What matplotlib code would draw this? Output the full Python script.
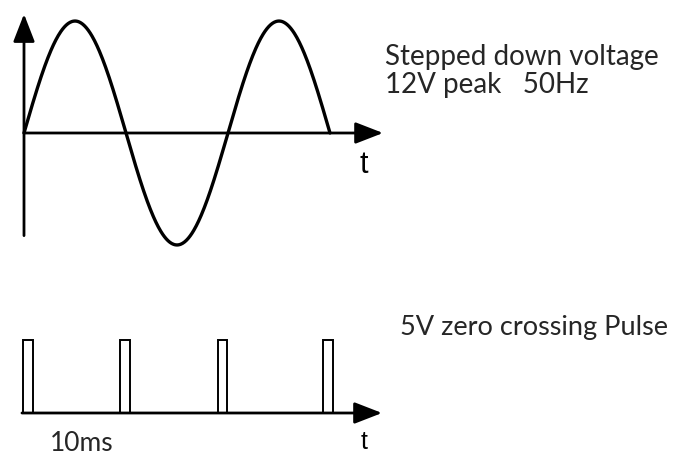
import numpy as np
import matplotlib
matplotlib.use('Agg')
import matplotlib.pyplot as plt

# sine wave (stepped down mains)
peak_voltage = 12
frequency_hz = 50
duration_ms = 30

# zero crossing pulses
pulse_starts_ms = [-0.1, 9.4, 19.0, 29.3]
pulse_width_ms = 0.95
pulse_voltage = 5

# text
top_labels = ['Stepped down voltage', '12V peak   50Hz']
bottom_label = '5V zero crossing Pulse'
period_label = '10ms'
axis_label = 't'

W, H = 674, 456
px_per_ms = 10.2
px_per_volt_top = 9.33
px_per_volt_bot = 14.6

fig = plt.figure(figsize=(W / 100, H / 100), dpi=100)

# top axes covers pixel rows 0..290, origin at (24, 134)
ax1 = fig.add_axes([0, 1 - 290 / H, 1, 290 / H])
ax1.set_xlim(-24 / px_per_ms, (W - 24) / px_per_ms)
ax1.set_ylim((134 - 290) / px_per_volt_top, 134 / px_per_volt_top)
ax1.axis('off')

# bottom axes covers pixel rows 290..456, origin at (24, 414)
ax2 = fig.add_axes([0, 0, 1, 166 / H])
ax2.set_xlim(-24 / px_per_ms, (W - 24) / px_per_ms)
ax2.set_ylim((414 - 456) / px_per_volt_bot, (414 - 290) / px_per_volt_bot)
ax2.axis('off')

arrow = dict(arrowstyle='-|>,head_length=0.85,head_width=0.33', lw=2.0,
             color='black', mutation_scale=20, shrinkA=0, shrinkB=0)

# top axes lines
ax1.annotate('', xy=(0, 12.75), xytext=(0, -11.0), arrowprops=arrow)
ax1.annotate('', xy=(35.2, 0), xytext=(0, 0), arrowprops=arrow)

t = np.linspace(0, duration_ms, 500)
v = peak_voltage * np.sin(2 * np.pi * frequency_hz * t / 1000)
ax1.plot(t, v, color='black', lw=2.4, solid_capstyle='round')

ax1.text(33.3, -4.2, axis_label, fontsize=22, family='Liberation Sans',
         ha='center', va='baseline')

# bottom pulses
ax2.bar(pulse_starts_ms, pulse_voltage, width=pulse_width_ms, align='edge',
        fill=False, edgecolor='black', lw=1.4)
ax2.annotate('', xy=(35.1, 0), xytext=(-0.2, 0), arrowprops=arrow)
ax2.text(33.3, -2.4, axis_label, fontsize=18, family='Liberation Sans',
         ha='center', va='baseline')

txt = dict(family='Lato', color='#262626', va='baseline')
fig.text(385 / W, 1 - 65 / H, top_labels[0], fontsize=20, **txt)
fig.text(385 / W, 1 - 93 / H, top_labels[1], fontsize=20, **txt)
fig.text(400 / W, 1 - 335 / H, bottom_label, fontsize=19.5, **txt)
fig.text(50 / W, 1 - 451 / H, period_label, fontsize=19, **txt)

fig.savefig('out.png', dpi=100)
